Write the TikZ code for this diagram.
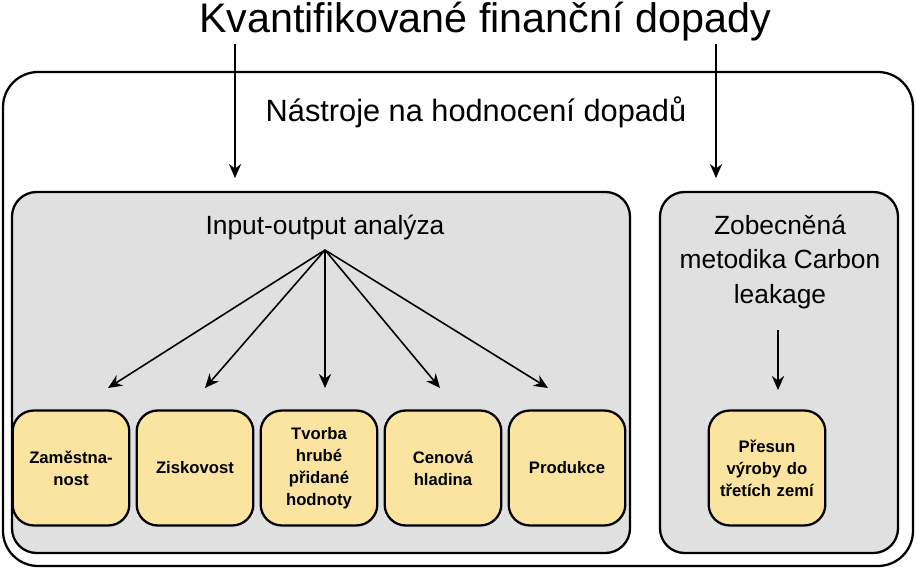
\documentclass[tikz,border=0pt]{standalone}
\usepackage{fontspec}
\setmainfont{Liberation Sans}
\usetikzlibrary{arrows.meta,positioning}
\definecolor{panelgray}{HTML}{E0E0E0}
\definecolor{effectyellow}{HTML}{FAE4A0}

\begin{document}
\begin{tikzpicture}[x=0.02cm, y=-0.02cm, every node/.style={font=\small},
  panel/.style={draw, line width=1.3pt, fill=panelgray, rounded corners=14pt},
  effect/.style={draw, line width=1.3pt, fill=effectyellow, rounded corners=12pt,
    minimum width=2.28cm, minimum height=2.3cm, align=center, text width=2.1cm,
    font=\fontsize{9.5}{12.5}\selectfont\bfseries},
  arr/.style={-{Stealth[length=8pt,width=7pt]}, line width=0.9pt}]

  % ---- Frame ----
  \useasboundingbox (0,0) rectangle (917,570);
  \draw[line width=1.3pt, rounded corners=20pt] (3,72) rectangle (913,566);

  % ---- Headings ----
  \node[font=\fontsize{23.5}{28}\selectfont] (title) at (485,22) {Kvantifikované finanční dopady};
  \node[font=\fontsize{17.5}{20}\selectfont] (tools) at (476,112) {Nástroje na hodnocení dopadů};

  % ---- Panels ----
  \draw[panel] (12,192) rectangle (630,553);
  \draw[panel] (660,192) rectangle (898,553);
  \coordinate (ioTop) at (235,178);
  \coordinate (clTop) at (716,178);
  \coordinate (titleL) at (235,44);
  \coordinate (titleR) at (716,44);
  \draw[arr] (titleL) -- (ioTop);
  \draw[arr] (titleR) -- (clTop);

  \node[font=\fontsize{15}{18}\selectfont] (io) at (325,228) {Input-output analýza};
  \node[font=\fontsize{15}{19.5}\selectfont, align=center] (cl) at (780,262)
    {Zobecněná\\metodika Carbon\\leakage};

  % ---- Effects ----
  \node[effect] (e1) at (71,468) {Zaměstna-\\nost};
  \node[effect] (e2) at (195,468) {Ziskovost};
  \node[effect] (e3) at (319,468) {Tvorba\\hrubé\\přidané\\hodnoty};
  \node[effect] (e4) at (443,468) {Cenová\\hladina};
  \node[effect] (e5) at (567,468) {Produkce};
  \node[effect] (e6) at (767,468) {Přesun\\výroby do\\třetích zemí};

  \coordinate (ioFoot) at (325,250);
  \foreach \tx in {108, 205, 325, 440, 548}
    \draw[arr] (ioFoot) -- (\tx,388);
  \coordinate (clFoot) at (778,330);
  \draw[arr] (clFoot) -- (778,390);
\end{tikzpicture}
\end{document}
